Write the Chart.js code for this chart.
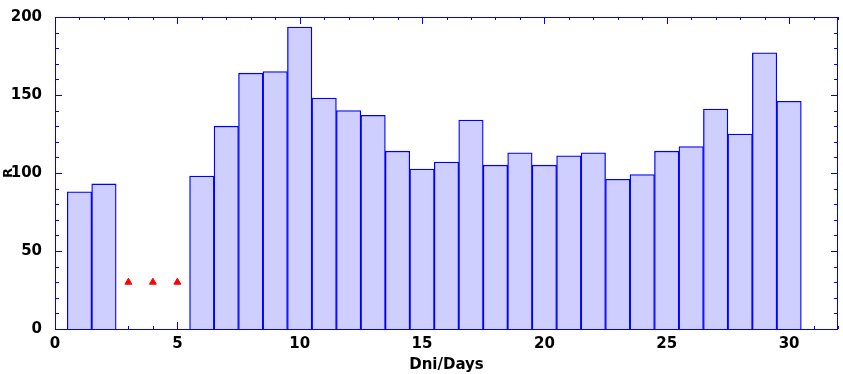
<!DOCTYPE html>
<html>
<head>
<meta charset="utf-8">
<script src="https://cdn.jsdelivr.net/npm/chart.js@4.4.1/dist/chart.umd.min.js"></script>
<style>
  html, body { margin: 0; padding: 0; background: #ffffff; }
  #wrap { width: 843px; height: 374px; }
</style>
</head>
<body>
<div id="wrap"><canvas id="grafico" width="843" height="374"></canvas></div>
<script>

// days with a measured value
var days = [1, 2, 6, 7, 8, 9, 10, 11, 12, 13, 14, 15, 16, 17, 18, 19, 20, 21, 22, 23, 24, 25, 26, 27, 28, 29, 30];
var valores = [88, 93, 98, 130, 164, 165, 193.5, 148, 140, 137, 114, 102.5, 107, 134, 105, 113, 105, 111, 113, 96, 99, 114, 117, 141, 125, 177, 146];

// days without data (red markers)
var diasFalta = [3, 4, 5];
var valorFalta = [30, 30, 30];

var xTicks = [0, 5, 10, 15, 20, 25, 30];
var yTicks = [0, 50, 100, 150, 200];

var azul = '#0000FF';
var fonte = { family: 'DejaVu Sans', size: 15, weight: 'bold' };

// frame + inward ticks (drawn behind the bars)
var moldura = {
	id: 'moldura',
	beforeDatasetsDraw: function(chart){
		var ctx = chart.ctx, a = chart.chartArea;
		var sx = chart.scales.x, sy = chart.scales.y;
		ctx.save();
		ctx.strokeStyle = azul;
		ctx.lineWidth = 1;
		ctx.beginPath();
		for (var v = 0; v <= 32; v++) {
			var px = Math.round(sx.getPixelForValue(v)) + 0.5;
			var len = (v % 5 === 0) ? 7 : 3;
			ctx.moveTo(px, a.bottom); ctx.lineTo(px, a.bottom - len);
			ctx.moveTo(px, a.top); ctx.lineTo(px, a.top + len);
		}
		for (var w = 0; w <= 200; w += 10) {
			var py = Math.round(sy.getPixelForValue(w)) + 0.5;
			var l2 = (w % 50 === 0) ? 7 : 4;
			ctx.moveTo(a.left, py); ctx.lineTo(a.left + l2, py);
			ctx.moveTo(a.right, py); ctx.lineTo(a.right - l2, py);
		}
		ctx.stroke();
		ctx.restore();
	},
	afterDatasetsDraw: function(chart){
		var ctx = chart.ctx, a = chart.chartArea;
		ctx.save();
		ctx.strokeStyle = azul;
		ctx.lineWidth = 1;
		ctx.strokeRect(Math.round(a.left) + 0.5, Math.round(a.top) + 0.5,
			Math.round(a.right - a.left) - 1, Math.round(a.bottom - a.top));
		ctx.restore();
	}
};

function exibirGrafico(){

	var barras = days.map(function(d, i){ return { x: d, y: valores[i] }; });
	var faltas = diasFalta.map(function(d, i){ return { x: d, y: valorFalta[i] }; });

	var data = {
		datasets: [
			{
				type: 'bar',
				data: barras,
				backgroundColor: '#CFCFFF',
				borderColor: azul,
				borderWidth: 1.3,
				barPercentage: 1,
				categoryPercentage: 1
			},
			{
				type: 'scatter',
				data: faltas,
				pointStyle: 'triangle',
				pointRadius: 4,
				backgroundColor: '#FF0000',
				borderColor: '#FF0000',
				borderWidth: 1
			}
		]
	};

	var options = {
		responsive: false,
		animation: false,
		events: [],
		layout: { padding: { top: 17, right: 1, left: 0, bottom: 0 } },
		plugins: {
			legend: { display: false },
			tooltip: { enabled: false }
		},
		scales: {
			x: {
				type: 'linear',
				offset: false,
				min: 0,
				max: 32,
				grid: { display: false, offset: false },
				border: { display: false },
				afterBuildTicks: function(s){ s.ticks = xTicks.map(function(v){ return { value: v }; }); },
				afterFit: function(s){ s.height = 45; },
				ticks: { color: '#000', font: fonte, padding: -2, maxRotation: 0 },
				title: { display: true, text: 'Dni/Days', color: '#000', font: fonte, padding: { top: 0, bottom: 0 } }
			},
			y: {
				min: 0,
				max: 200,
				grid: { display: false },
				border: { display: false },
				afterBuildTicks: function(s){ s.ticks = yTicks.map(function(v){ return { value: v }; }); },
				afterFit: function(s){ s.width = 55; },
				ticks: { color: '#000', font: fonte, padding: 5 },
				title: { display: true, text: 'R', color: '#000', font: { family: 'DejaVu Sans', size: 13, weight: 'bold' }, padding: { top: 1, bottom: 0 } }
			}
		}
	};

	var ctx = document.getElementById('grafico').getContext('2d');
	new Chart(ctx, { type: 'bar', data: data, options: options, plugins: [moldura] });
}

exibirGrafico();
</script>
</body>
</html>
